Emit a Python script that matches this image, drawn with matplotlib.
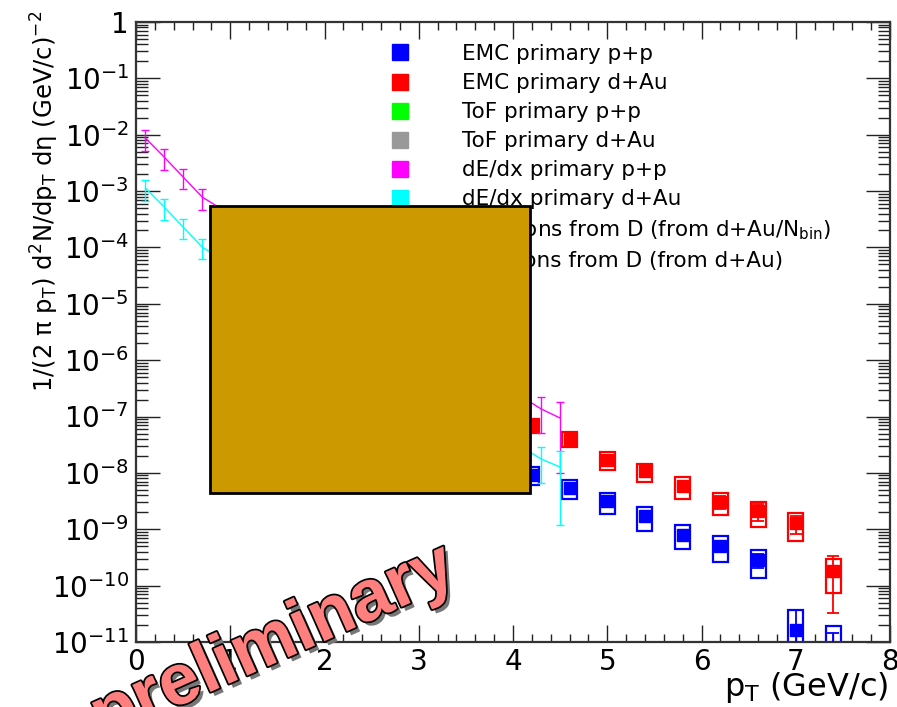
import numpy as np
import matplotlib
matplotlib.use('Agg')
import matplotlib.pyplot as plt
from matplotlib import patheffects, font_manager
from matplotlib.font_manager import FontProperties
from matplotlib.patches import Rectangle
from matplotlib.lines import Line2D
from matplotlib.ticker import MultipleLocator, LogLocator, NullFormatter

plt.rcParams['font.family'] = ['DejaVu Sans']
plt.rcParams['mathtext.default'] = 'regular'

# dE/dx spectra: low pT points and the two points past 4 GeV/c
dedx_pt = [0.1, 0.3, 0.5, 0.7, 4.3, 4.5]
dedx_pp = [8.7e-3, 4.0e-3, 1.78e-3, 7.9e-4, 1.36e-7, 9.4e-8]
dedx_pp_err = [3.5e-3, 1.6e-3, 7.0e-4, 3.2e-4, 8.5e-8, 8.4e-8]
dedx_dau = [1.13e-3, 5.2e-4, 2.3e-4, 1.02e-4, 1.76e-8, 1.27e-8]
dedx_dau_err = [4.5e-4, 2.1e-4, 9.0e-5, 4.0e-5, 1.1e-8, 1.15e-8]

# EMC spectra with stat errors and systematic boxes
emc_pt = [4.2, 4.6, 5.0, 5.4, 5.8, 6.2, 6.6, 7.0, 7.4]
emc_dau = [7.2e-8, 4.07e-8, 1.71e-8, 1.07e-8, 5.9e-9, 3.08e-9, 2.08e-9, 1.27e-9, 1.83e-10]
emc_dau_stat = [7e-9, 4e-9, 1.7e-9, 1.0e-9, 5.5e-10, 8e-10, 6.8e-10, 4.6e-10, 1.5e-10]
emc_dau_sys = [2.0e-8, 1.15e-8, 6.0e-9, 3.8e-9, 2.4e-9, 1.3e-9, 1.0e-9, 6.5e-10, 1.1e-10]
emc_pp = [9.35e-9, 5.4e-9, 3.15e-9, 1.69e-9, 8.07e-10, 5.08e-10, 2.85e-10, 1.63e-11, 7.0e-12]
emc_pp_stat = [9e-10, 5e-10, 3e-10, 1.6e-10, 8e-11, 5e-11, 8e-11, 2.1e-11, 7.6e-12]
emc_pp_sys = [3.3e-9, 2.0e-9, 1.25e-9, 7.5e-10, 3.6e-10, 2.4e-10, 1.5e-10, 2.06e-11, 1.25e-11]

legend_labels = ['EMC primary p+p', 'EMC primary d+Au', 'ToF primary p+p',
                 'ToF primary d+Au', 'dE/dx primary p+p', 'dE/dx primary d+Au',
                 'Electrons from D (from d+Au/N$_{bin}$)',
                 'Electrons from D (from d+Au)']
legend_colors = ['#0000ff', '#ff0000', '#00ff00', '#999999', '#ff00ff', '#00ffff',
                 '#000000', '#000000']

y_ticks = [1e-11, 1e-10, 1e-9, 1e-8, 1e-7, 1e-6, 1e-5, 1e-4, 1e-3, 1e-2, 1e-1, 1]
y_tick_labels = ['$10^{-11}$', '$10^{-10}$', '$10^{-9}$', '$10^{-8}$', '$10^{-7}$',
                 '$10^{-6}$', '$10^{-5}$', '$10^{-4}$', '$10^{-3}$', '$10^{-2}$',
                 '$10^{-1}$', '1']

# region blanked out on the slide
blank_x = (0.785, 4.18)
blank_y = (4.4e-9, 5.4e-4)

fig = plt.figure(figsize=(8.97, 7.07), dpi=100)
ax = fig.add_axes([136 / 897, 1 - 642 / 707, 754 / 897, 620 / 707])
ax.set_yscale('log')
ax.set_xlim(0, 8)
ax.set_ylim(1e-11, 1)


def draw_emc(pt, val, stat, sys, color):
    for x, v, s in zip(pt, val, sys):
        lo = max(v - s, 1e-13)
        ax.add_patch(Rectangle((x - 0.08, lo), 0.16, v + s - lo, fill=False,
                               edgecolor=color, lw=1.6, zorder=2))
    ax.errorbar(pt, val, yerr=stat, fmt='s', color=color, ms=8.5, lw=1.3,
                capsize=4.5, capthick=1.3, zorder=3)


draw_emc(emc_pt, emc_pp, emc_pp_stat, emc_pp_sys, '#0000ff')
draw_emc(emc_pt, emc_dau, emc_dau_stat, emc_dau_sys, '#ff0000')

ax.errorbar(dedx_pt, dedx_pp, yerr=dedx_pp_err, color='#ff00ff', lw=1,
            capsize=3, capthick=1, zorder=3)
ax.errorbar(dedx_pt, dedx_dau, yerr=dedx_dau_err, color='#00ffff', lw=1,
            capsize=3, capthick=1, zorder=3)

handles = [Line2D([], [], marker='s', ls='none', color=c, ms=11) for c in legend_colors]
leg = ax.legend(handles, legend_labels, loc='upper left',
                bbox_to_anchor=(0.322, 0.9645), borderaxespad=0, borderpad=0,
                frameon=False, fontsize=15.5, handlelength=1.95, handletextpad=1.9,
                labelspacing=0.42)
leg.set_zorder(5)

ax.add_patch(Rectangle((blank_x[0], blank_y[0]), blank_x[1] - blank_x[0],
                       blank_y[1] - blank_y[0], facecolor='#cc9900',
                       edgecolor='black', lw=2, zorder=10))

# axis styling
ax.xaxis.set_major_locator(MultipleLocator(1))
ax.xaxis.set_minor_locator(MultipleLocator(0.2))
ax.set_yticks(y_ticks, y_tick_labels)
ax.yaxis.set_minor_locator(LogLocator(base=10, subs=np.arange(2, 10), numticks=30))
ax.yaxis.set_minor_formatter(NullFormatter())
ax.tick_params(which='both', direction='in', top=True, right=True,
               labelsize=20, color='#222222', width=1)
ax.tick_params(axis='y', which='major', length=17, pad=5)
ax.tick_params(axis='y', which='minor', length=8.5)
ax.tick_params(axis='x', which='major', length=12, pad=4)
ax.tick_params(axis='x', which='minor', length=6)
for sp in ax.spines.values():
    sp.set_linewidth(1.6)
    sp.set_color('#333333')

ax.set_xlabel('$p_{T}$ (GeV/c)', fontsize=23, loc='right')
ax.xaxis.set_label_coords(0.998, -0.045)
ax.set_ylabel(r'$1/(2\ \pi\ p_{T})\ d^{2}N/dp_{T}\ d\eta\ (GeV/c)^{-2}$', fontsize=17.5)
ax.yaxis.set_label_coords(-0.10, 0.711)

# STAR preliminary stamp, narrow bold face when available
names = {f.name for f in font_manager.fontManager.ttflist}
star_family = 'Liberation Sans Narrow' if 'Liberation Sans Narrow' in names else 'Liberation Sans'
star_prop = FontProperties(family=star_family, weight='bold')

# scale the stamp so the word "preliminary" runs about 390 px
renderer = fig.canvas.get_renderer()
star_prop.set_size(50)
probe = fig.text(0, 0, 'preliminary', fontproperties=star_prop)
probe_w = probe.get_window_extent(renderer).width
probe.remove()
star_prop.set_size(50 * 390 / probe_w)

fig.text(0.512, 0.178, 'STAR preliminary', fontproperties=star_prop,
         color='#ff7f7f', rotation=24, rotation_mode='anchor',
         ha='right', va='baseline', zorder=20,
         path_effects=[patheffects.SimplePatchShadow(offset=(3, -3),
                                                     shadow_rgbFace='#777777', alpha=1),
                       patheffects.Stroke(linewidth=2.5, foreground='black'),
                       patheffects.Normal()])

fig.savefig('out.png', dpi=100)
